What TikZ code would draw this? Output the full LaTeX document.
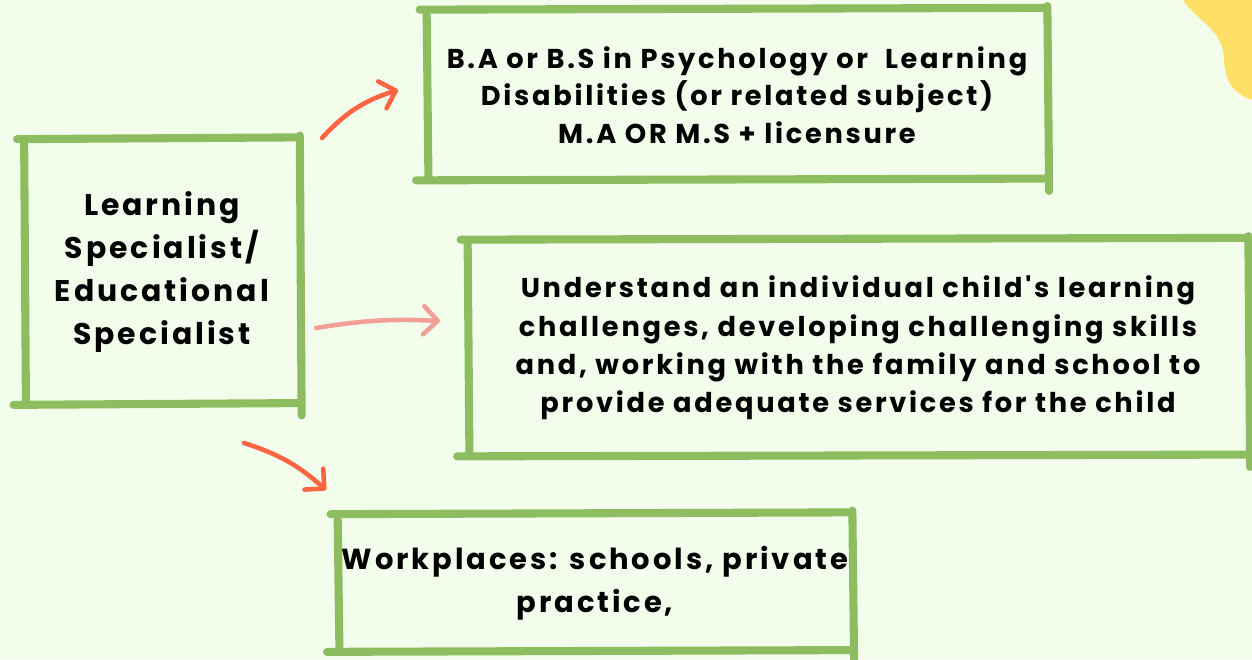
\documentclass[tikz,border=0pt]{standalone}
\usepackage{fontspec}
\setmainfont{Poppins}[LetterSpace=10, Ligatures=TeXOff]
\usetikzlibrary{arrows.meta}

\definecolor{paper}{HTML}{F2FDEC}
\definecolor{leaf}{HTML}{8DBD60}
\definecolor{coral}{HTML}{FF6542}
\definecolor{salmon}{HTML}{F2A097}
\definecolor{sun}{HTML}{FFE066}

\tikzset{
  brush/.style={draw=leaf, line width=4.6pt, line cap=round},
  card/.style={inner sep=0pt, align=center, font=\bfseries},
  pointer/.style={line width=2.6pt, line cap=round,
    -{Straight Barb[length=8pt,width=16pt,round]}},
}

% rough four-stroke frame round a node
\newcommand{\brushbox}[1]{%
  \draw[brush] ([xshift=-4pt]#1.north west) -- ([xshift=-2pt,yshift=1pt]#1.north east);
  \draw[brush] ([yshift=2pt]#1.north east) -- ([xshift=1pt,yshift=-6pt]#1.south east);
  \draw[brush] ([xshift=-6pt]#1.south west) -- ([xshift=-1pt,yshift=1pt]#1.south east);
  \draw[brush] ([yshift=-2pt]#1.north west) -- ([xshift=1pt,yshift=2pt]#1.south west);
}

\begin{document}
\begin{tikzpicture}
    \fill[paper] (0,0) rectangle (25.04,13.18);
    \useasboundingbox (0,0) rectangle (25.04,13.18);

    % yellow corner
    \fill[sun] (23.66,13.18) .. controls (24.0,12.7) and (24.45,12.6) .. (24.48,12.0)
      .. controls (24.5,11.5) and (24.7,11.3) .. (25.04,11.18) -- (25.04,13.18) -- cycle;

    \node[card, minimum width=5.5cm, minimum height=5.3cm,
      font=\bfseries\fontsize{17}{24.4}\selectfont] (spec) at (3.24,7.74)
      {Learning\\Specialist/\\Educational\\Specialist};
    \node[card, minimum width=12.4cm, minimum height=3.4cm,
      font=\bfseries\fontsize{15.5}{21.3}\selectfont] (degree) at (14.74,11.28)
      {B.A or B.S in Psychology or\ \ Learning\\Disabilities (or related subject)\\M.A OR M.S + licensure};
    \node[card, minimum width=15.6cm, minimum height=4.32cm,
      font=\bfseries\fontsize{15.5}{21.8}\selectfont] (role) at (17.16,6.22)
      {Understand an individual child's learning\\challenges, developing challenging skills\\and, working with the family and school to\\provide adequate services for the child};
    \node[card, minimum width=10.28cm, minimum height=2.74cm,
      font=\bfseries\fontsize{16.5}{24.4}\selectfont] (work) at (11.9,1.52)
      {Workplaces: schools, private\\practice,};

    \brushbox{spec}
    \brushbox{degree}
    \brushbox{role}
    \brushbox{work}

    \coordinate (topfrom) at (6.44,10.42);
    \coordinate (topto) at (7.96,11.38);
    \coordinate (midfrom) at (6.32,6.62);
    \coordinate (midto) at (8.8,6.76);
    \coordinate (lowfrom) at (4.88,4.32);
    \coordinate (lowto) at (6.52,3.38);

    \draw[pointer, coral] (topfrom) to[bend left=15] (topto);
    \draw[pointer, salmon] (midfrom) to[bend left=6] (midto);
    \draw[pointer, coral] (lowfrom) to[bend left=12] (lowto);
\end{tikzpicture}
\end{document}
